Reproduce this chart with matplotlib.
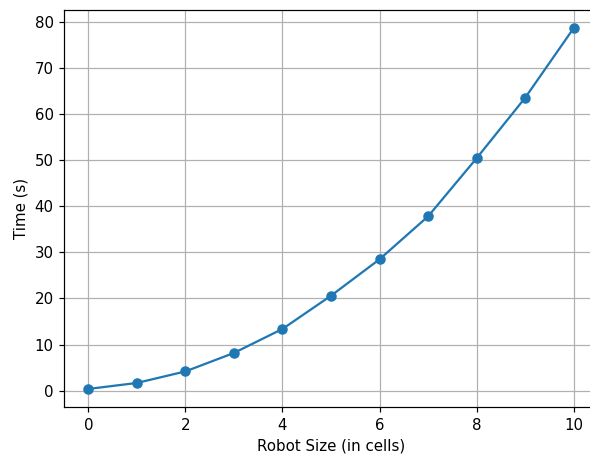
import numpy as np
import matplotlib
matplotlib.use('Agg')
import matplotlib.pyplot as plt

# robot size vs time
robot_size = [0, 1, 2, 3, 4, 5, 6, 7, 8, 9, 10]
time_s = [0.4, 1.7, 4.2, 8.2, 13.4, 20.6, 28.5, 37.8, 50.4, 63.5, 78.6]

fig = plt.figure(figsize=(590/108, 457/108), dpi=108)
# axes run a little past the right edge (reference is cropped there)
ax = fig.add_axes([64/590, 50/457, 534/590, 397/457])

ax.plot(robot_size, time_s, marker='o')
ax.set_xlabel('Robot Size (in cells)')
ax.set_ylabel('Time (s)')
ax.grid(True)

fig.savefig('out.png', dpi=108)
